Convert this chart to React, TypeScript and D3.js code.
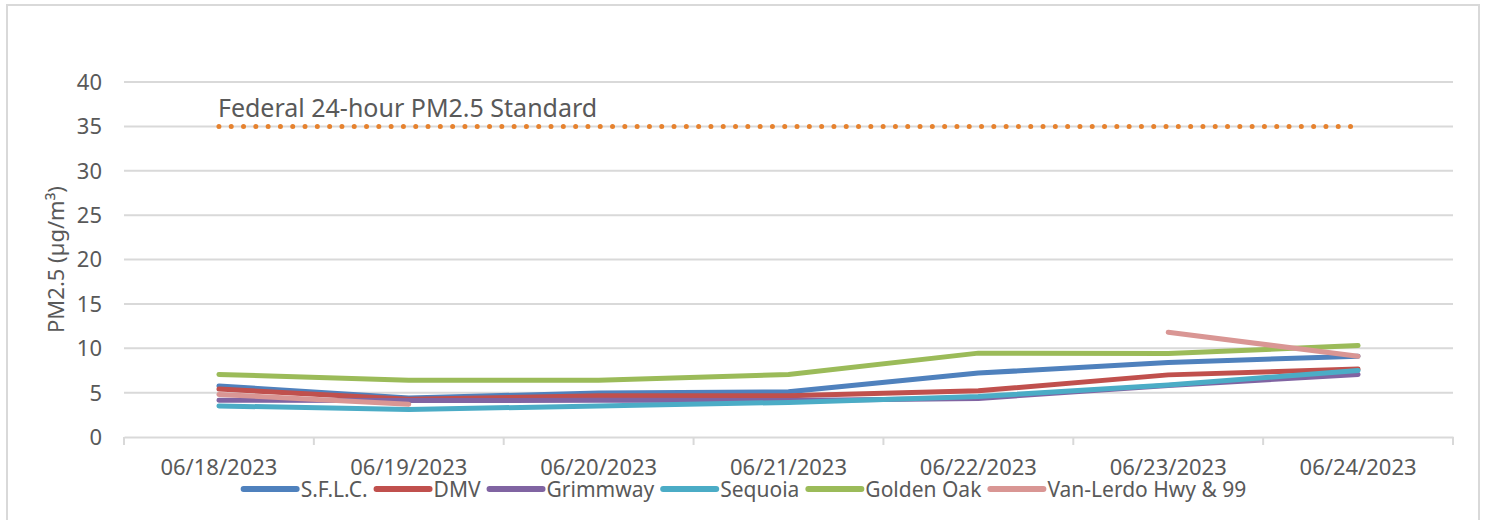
import React, { useRef, useEffect } from "react";
import * as d3 from "d3";

const dates = [
  "06/18/2023",
  "06/19/2023",
  "06/20/2023",
  "06/21/2023",
  "06/22/2023",
  "06/23/2023",
  "06/24/2023",
];

const sflc = [5.75, 4.4, 4.95, 5.1, 7.2, 8.4, 9.1];
const dmv = [5.4, 4.25, 4.65, 4.65, 5.2, 7.0, 7.65];
const grimmway = [4.15, 4.1, 4.15, 4.1, 4.35, 5.8, 7.05];
const sequoia = [3.5, 3.1, 3.5, 3.9, 4.55, 5.85, 7.5];
const goldenOak = [7.05, 6.4, 6.4, 7.05, 9.45, 9.4, 10.3];
const vanLerdo = [4.8, 3.7, null, null, null, 11.8, 9.1];
const standard = [35, 35, 35, 35, 35, 35, 35];

const yTicks = [0, 5, 10, 15, 20, 25, 30, 35, 40];

const series = [
  { name: "S.F.L.C.", values: sflc, color: "#4F81BD" },
  { name: "DMV", values: dmv, color: "#C0504D" },
  { name: "Grimmway", values: grimmway, color: "#8064A2" },
  { name: "Sequoia", values: sequoia, color: "#4BACC6" },
  { name: "Golden Oak", values: goldenOak, color: "#9BBB59" },
  { name: "Van-Lerdo Hwy & 99", values: vanLerdo, color: "#D99694" },
];

const FONT = "'Noto Sans', sans-serif";
const TEXT = "#595959";
const GRID = "#D9D9D9";

export default function App() {
  const svgRef = useRef<SVGSVGElement>(null);

  useEffect(() => {
    if (!svgRef.current) return;
    const svg = d3.select(svgRef.current);
    svg.selectAll("*").remove();

    const width = 1485;
    const height = 520;
    const margin = { top: 82, right: 32, bottom: 83, left: 124 };

    // chart frame
    svg.append("rect")
      .attr("x", 7).attr("y", 5)
      .attr("width", 1472).attr("height", 530)
      .attr("fill", "#fff")
      .attr("stroke", GRID)
      .attr("stroke-width", 2);

    const x = d3.scaleBand<string>()
      .domain(dates)
      .range([margin.left, width - margin.right]);
    const y = d3.scaleLinear()
      .domain([0, 40])
      .range([height - margin.bottom, margin.top]);
    const cx = (d: string) => (x(d) as number) + x.bandwidth() / 2;

    // gridlines
    svg.append("g")
      .selectAll("line")
      .data(yTicks.filter((t) => t > 0))
      .join("line")
      .attr("x1", margin.left).attr("x2", width - margin.right)
      .attr("y1", (d) => y(d)).attr("y2", (d) => y(d))
      .attr("stroke", GRID).attr("stroke-width", 2);

    // y axis labels
    svg.append("g")
      .selectAll("text")
      .data(yTicks)
      .join("text")
      .attr("x", 102)
      .attr("y", (d) => y(d))
      .attr("dy", "0.36em")
      .attr("text-anchor", "end")
      .attr("font-family", FONT)
      .attr("font-size", 22)
      .attr("fill", TEXT)
      .text((d) => d);

    // x axis
    const xAxis = d3.axisBottom(x).tickSize(0).tickPadding(22);
    const gx = svg.append("g")
      .attr("transform", `translate(0,${y(0)})`)
      .call(xAxis);
    gx.select(".domain").attr("stroke", GRID).attr("stroke-width", 2);
    gx.selectAll("text")
      .attr("font-family", FONT)
      .attr("font-size", 22)
      .attr("fill", TEXT);

    // tick marks at category boundaries
    const bounds = dates.map((d) => x(d) as number).concat([width - margin.right]);
    svg.append("g")
      .selectAll("line")
      .data(bounds)
      .join("line")
      .attr("x1", (d) => d).attr("x2", (d) => d)
      .attr("y1", y(0)).attr("y2", y(0) + 8)
      .attr("stroke", GRID).attr("stroke-width", 2);

    // y axis title
    svg.append("text")
      .attr("transform", `translate(64,${(y(0) + y(40)) / 2}) rotate(-90)`)
      .attr("text-anchor", "middle")
      .attr("font-family", FONT)
      .attr("font-size", 22)
      .attr("fill", TEXT)
      .text("PM2.5 (µg/m³)");

    // standard line
    const line = d3.line<number | null>()
      .defined((v) => v != null)
      .x((_, i) => cx(dates[i]))
      .y((v) => y(v as number));

    svg.append("path")
      .datum(standard)
      .attr("fill", "none")
      .attr("stroke", "#E6822E")
      .attr("stroke-width", 5)
      .attr("stroke-linecap", "round")
      .attr("stroke-dasharray", "0 12.3")
      .attr("d", line as any);

    svg.append("text")
      .attr("x", cx(dates[0]) - 1)
      .attr("y", y(35) - 9)
      .attr("font-family", FONT)
      .attr("font-size", 25)
      .attr("fill", TEXT)
      .text("Federal 24-hour PM2.5 Standard");

    // data lines
    svg.append("g")
      .selectAll("path")
      .data(series)
      .join("path")
      .attr("fill", "none")
      .attr("stroke", (s) => s.color)
      .attr("stroke-width", 5)
      .attr("stroke-linecap", "round")
      .attr("stroke-linejoin", "round")
      .attr("d", (s) => line(s.values as (number | null)[]));

    // legend
    const legend = svg.append("g");
    const items = legend.selectAll("g")
      .data(series)
      .join("g");
    items.append("line")
      .attr("x1", 0).attr("x2", 53)
      .attr("y1", 0).attr("y2", 0)
      .attr("stroke", (s) => s.color)
      .attr("stroke-width", 6)
      .attr("stroke-linecap", "round");
    items.append("text")
      .attr("x", 57)
      .attr("dy", "0.36em")
      .attr("font-family", FONT)
      .attr("font-size", 21)
      .attr("fill", TEXT)
      .text((s) => s.name);

    let pos = 0;
    items.each(function () {
      const g = d3.select(this);
      const w = (g.select("text").node() as SVGTextElement).getComputedTextLength();
      g.attr("transform", `translate(${pos},0)`);
      pos += 57 + w + 9;
    });
    const total = pos - 9;
    legend.attr("transform", `translate(${745 - total / 2},489)`);
  }, []);

  return (
    <svg
      ref={svgRef}
      width={1485}
      height={520}
      style={{ position: "absolute", left: 0, top: 0, background: "#fff" }}
    />
  );
}
